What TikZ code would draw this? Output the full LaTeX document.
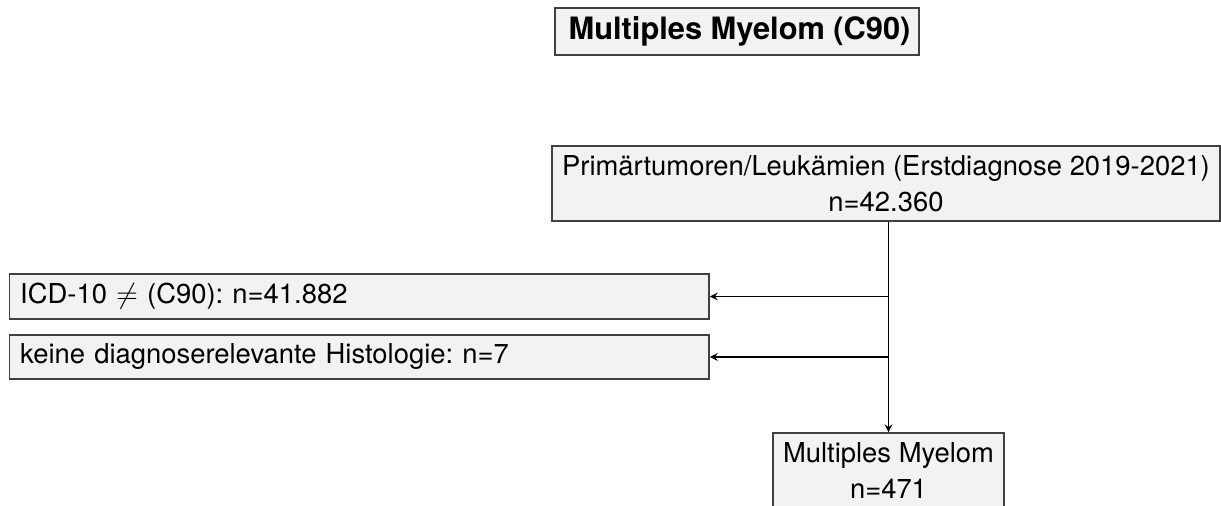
\documentclass[tikz,border=0pt]{standalone}
\usepackage{fontspec}
\setmainfont{TeX Gyre Heros}
\frenchspacing
\definecolor{boxfill}{HTML}{F2F2F2}
\definecolor{boxline}{HTML}{404040}
\tikzset{
    flowbox/.style={draw=boxline, fill=boxfill, line width=0.8pt, inner sep=0pt,
        font=\fontsize{13.7}{18}\selectfont},
    titlebox/.style={flowbox, font=\fontsize{15.4}{19}\selectfont\bfseries},
    flowline/.style={line width=0.75pt, ->, >=stealth}
}
\begin{document}
\begin{tikzpicture}[x=0.5pt,y=-0.5pt]
        \useasboundingbox (0,0) rectangle (1221,506);
        % Title
        \node[titlebox, minimum width=182pt, minimum height=23.5pt] (title) at (737,31.5) {\,Multiples Myelom (C90)};
        % Boxes of the flow
        \node[flowbox, minimum width=334pt, minimum height=37.5pt, align=center] (prim) at (886,183.5)
            {Primärtumoren/Leukämien (Erstdiagnose 2019-2021)\\n=42.360};
        \node[flowbox, minimum height=22.5pt, text width=339pt, inner xsep=5.4pt, align=left] (icd) at (359.25,296.5)
            {ICD-10 $\neq$ (C90): n=41.882};
        \node[flowbox, minimum height=22pt, text width=339pt, inner xsep=5.4pt, align=left] (keine) at (359.25,357)
            {keine diagnoserelevante Histologie: n=7};
        \node[flowbox, minimum width=115.5pt, minimum height=37.5pt, align=center] (mm) at (888.5,470.5)
            {Multiples Myelom\\n=471};
        % Connectors
        \draw[flowline] (prim.south -| mm.north) -- (mm.north);
        \foreach \b in {icd,keine}{
          \draw[flowline] (mm.north |- \b.east) -- (\b.east);
          }
    \end{tikzpicture}
\end{document}
